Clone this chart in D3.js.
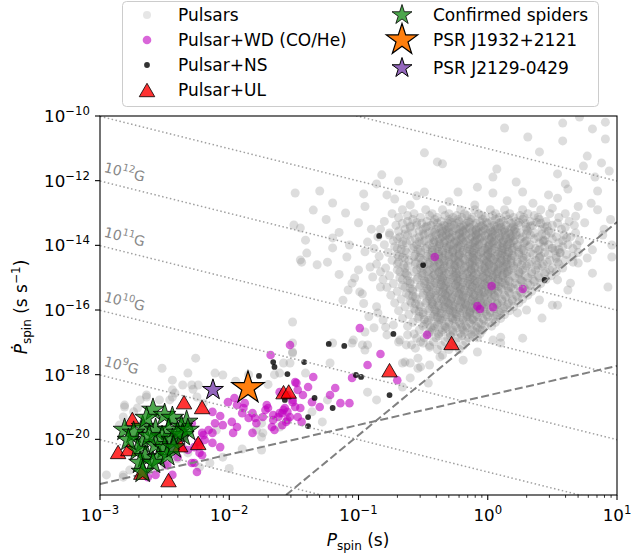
<!DOCTYPE html>
<html><head><meta charset="utf-8">
<script src="https://cdn.jsdelivr.net/npm/d3@7"></script>
<style>body{margin:0;background:#fff}svg{display:block}text{font-family:"DejaVu Sans",sans-serif}</style>
</head><body><svg id="c" width="631" height="553"></svg>
<script>
// All values are log10(P [s]) and log10(Pdot [s/s]).
// Dense pulsar population, rows: [log10 Pdot, log10 P ...]
const pulsarRowsA = [
[-12.9,-0.66,-0.48,-0.35,-0.21,-0.1,0.02,0.13,0.27,0.41],
[-13.02,-0.74,-0.57,-0.43,-0.3,-0.18,-0.07,0.06,0.17,0.31,0.48,0.6],
[-13.14,-0.69,-0.52,-0.39,-0.27,-0.2,-0.12,-0.02,0.09,0.2,0.28,0.39,0.55],
[-13.26,-0.8,-0.62,-0.47,-0.36,-0.29,-0.22,-0.15,-0.06,0.03,0.12,0.22,0.33,0.45,0.63],
[-13.38,-0.71,-0.55,-0.44,-0.34,-0.26,-0.18,-0.11,-0.04,0.05,0.14,0.24,0.35,0.5,0.67],
[-13.5,-0.83,-0.64,-0.5,-0.4,-0.32,-0.24,-0.17,-0.09,-0.02,0.06,0.13,0.21,0.3,0.42,0.57],
[-13.62,-0.76,-0.58,-0.46,-0.37,-0.3,-0.22,-0.14,-0.07,0.0,0.08,0.16,0.25,0.36,0.49,0.68],
[-13.74,-0.85,-0.68,-0.53,-0.43,-0.35,-0.28,-0.2,-0.12,-0.05,0.03,0.1,0.18,0.27,0.39,0.53,0.64],
[-13.86,-0.73,-0.6,-0.49,-0.41,-0.33,-0.25,-0.17,-0.1,-0.03,0.05,0.12,0.2,0.3,0.44,0.58,0.71],
[-13.98,-0.8,-0.66,-0.55,-0.45,-0.37,-0.29,-0.22,-0.14,-0.07,0.01,0.08,0.15,0.23,0.33,0.47,0.62],
[-14.1,-0.88,-0.7,-0.58,-0.48,-0.39,-0.31,-0.24,-0.16,-0.09,-0.02,0.05,0.12,0.19,0.27,0.37,0.5,0.66],
[-14.22,-0.77,-0.63,-0.52,-0.43,-0.35,-0.27,-0.2,-0.12,-0.05,0.02,0.09,0.16,0.24,0.33,0.44,0.56,0.7],
[-14.34,-0.84,-0.69,-0.57,-0.47,-0.38,-0.3,-0.23,-0.15,-0.08,-0.01,0.06,0.13,0.21,0.3,0.41,0.53,0.66],
[-14.46,-0.74,-0.61,-0.5,-0.41,-0.33,-0.25,-0.18,-0.1,-0.03,0.04,0.11,0.18,0.27,0.37,0.48,0.6],
[-14.58,-0.86,-0.7,-0.56,-0.46,-0.37,-0.29,-0.21,-0.14,-0.06,0.01,0.08,0.15,0.23,0.32,0.43,0.55],
[-14.7,-0.79,-0.64,-0.52,-0.42,-0.34,-0.26,-0.18,-0.1,-0.03,0.05,0.12,0.2,0.29,0.39,0.5,0.58],
[-14.82,-0.83,-0.68,-0.57,-0.47,-0.38,-0.3,-0.22,-0.15,-0.07,0.0,0.07,0.15,0.24,0.34,0.45,0.53],
[-14.94,-0.76,-0.62,-0.51,-0.42,-0.34,-0.26,-0.19,-0.11,-0.04,0.04,0.11,0.19,0.29,0.39,0.49],
[-15.06,-0.81,-0.66,-0.55,-0.45,-0.37,-0.29,-0.21,-0.14,-0.06,0.01,0.08,0.16,0.25,0.35,0.45],
[-15.18,-0.73,-0.6,-0.49,-0.4,-0.32,-0.24,-0.16,-0.09,-0.02,0.06,0.13,0.21,0.31,0.41],
[-15.3,-0.78,-0.64,-0.53,-0.44,-0.35,-0.27,-0.19,-0.12,-0.04,0.03,0.1,0.18,0.28,0.38],
[-15.42,-0.7,-0.58,-0.47,-0.38,-0.3,-0.22,-0.14,-0.07,0.01,0.08,0.16,0.25,0.34],
[-15.54,-0.75,-0.61,-0.5,-0.41,-0.33,-0.25,-0.17,-0.1,-0.02,0.05,0.13,0.22,0.31],
[-15.66,-0.67,-0.55,-0.45,-0.36,-0.28,-0.2,-0.12,-0.05,0.03,0.11,0.19,0.27],
[-15.78,-0.72,-0.59,-0.48,-0.39,-0.31,-0.23,-0.15,-0.08,0.0,0.08,0.16,0.24],
[-15.9,-0.64,-0.52,-0.43,-0.34,-0.26,-0.18,-0.1,-0.03,0.05,0.13,0.2],
[-16.02,-0.69,-0.56,-0.46,-0.37,-0.29,-0.21,-0.13,-0.06,0.02,0.1,0.17],
[-16.14,-0.61,-0.5,-0.41,-0.32,-0.24,-0.16,-0.09,-0.01,0.07,0.13],
[-16.26,-0.66,-0.54,-0.44,-0.35,-0.27,-0.19,-0.11,-0.04,0.04,0.1],
[-16.38,-0.58,-0.47,-0.38,-0.3,-0.22,-0.14,-0.07,0.01,0.06],
[-16.5,-0.62,-0.5,-0.41,-0.33,-0.25,-0.17,-0.09,-0.02,0.03],
[-16.62,-0.53,-0.43,-0.35,-0.27,-0.19,-0.12,-0.04],
[-16.74,-0.57,-0.46,-0.38,-0.29,-0.21,-0.13,-0.06],
[-16.86,-0.49,-0.4,-0.31,-0.23,-0.15,-0.08],
[-16.98,-0.52,-0.42,-0.33,-0.25,-0.17],
[-17.1,-0.45,-0.36,-0.27,-0.19],
[-17.22,-0.39,-0.3,-0.22]
];
const pulsarRowsB = [
[-13.08,-0.62,-0.45,-0.33,-0.24,-0.16,-0.05,0.04,0.14,0.25,0.36],
[-13.2,-0.58,-0.41,-0.3,-0.23,-0.13,-0.04,0.06,0.16,0.27,0.4],
[-13.32,-0.66,-0.51,-0.39,-0.31,-0.24,-0.17,-0.09,0.0,0.09,0.18,0.29,0.41,0.54],
[-13.44,-0.6,-0.48,-0.38,-0.3,-0.21,-0.14,-0.07,0.02,0.1,0.19,0.3,0.44,0.6],
[-13.56,-0.69,-0.53,-0.43,-0.35,-0.27,-0.19,-0.12,-0.04,0.04,0.11,0.2,0.31,0.47],
[-13.68,-0.62,-0.49,-0.4,-0.32,-0.25,-0.17,-0.09,-0.02,0.06,0.14,0.22,0.33,0.45,0.59],
[-13.8,-0.7,-0.56,-0.45,-0.37,-0.29,-0.21,-0.14,-0.06,0.01,0.09,0.17,0.25,0.36,0.5],
[-13.92,-0.63,-0.51,-0.42,-0.34,-0.26,-0.19,-0.11,-0.04,0.04,0.11,0.18,0.28,0.4,0.55],
[-14.04,-0.72,-0.57,-0.47,-0.38,-0.3,-0.23,-0.15,-0.08,0.0,0.07,0.15,0.23,0.32,0.44,0.58],
[-14.16,-0.64,-0.52,-0.43,-0.35,-0.27,-0.19,-0.11,-0.04,0.03,0.11,0.19,0.28,0.39,0.52],
[-14.28,-0.7,-0.56,-0.46,-0.38,-0.3,-0.22,-0.14,-0.07,0.0,0.08,0.15,0.24,0.35,0.47,0.61],
[-14.4,-0.64,-0.52,-0.43,-0.35,-0.27,-0.19,-0.11,-0.04,0.03,0.1,0.18,0.28,0.4,0.53],
[-14.52,-0.69,-0.56,-0.46,-0.38,-0.3,-0.22,-0.14,-0.07,0.0,0.07,0.14,0.23,0.34,0.46],
[-14.64,-0.62,-0.5,-0.41,-0.33,-0.25,-0.17,-0.1,-0.02,0.05,0.12,0.2,0.3,0.42],
[-14.76,-0.7,-0.55,-0.45,-0.36,-0.28,-0.2,-0.13,-0.05,0.03,0.1,0.18,0.27,0.37,0.48],
[-14.88,-0.63,-0.5,-0.41,-0.32,-0.24,-0.16,-0.09,-0.01,0.07,0.15,0.24,0.34,0.44],
[-15.0,-0.68,-0.54,-0.44,-0.35,-0.27,-0.19,-0.12,-0.04,0.04,0.12,0.21,0.31,0.4],
[-15.12,-0.6,-0.48,-0.39,-0.31,-0.23,-0.15,-0.08,0.0,0.08,0.17,0.27,0.36],
[-15.24,-0.66,-0.52,-0.42,-0.33,-0.25,-0.17,-0.1,-0.02,0.06,0.14,0.23,0.33],
[-15.36,-0.58,-0.46,-0.37,-0.29,-0.21,-0.13,-0.05,0.03,0.11,0.2,0.29],
[-15.48,-0.63,-0.5,-0.4,-0.31,-0.23,-0.15,-0.07,0.0,0.08,0.17,0.26],
[-15.6,-0.56,-0.44,-0.35,-0.27,-0.19,-0.11,-0.03,0.05,0.14,0.23],
[-15.72,-0.6,-0.47,-0.38,-0.29,-0.21,-0.13,-0.06,0.02,0.11,0.19],
[-15.84,-0.53,-0.42,-0.33,-0.25,-0.17,-0.09,-0.01,0.07,0.15],
[-15.96,-0.57,-0.45,-0.36,-0.27,-0.19,-0.11,-0.03,0.05,0.12],
[-16.08,-0.5,-0.39,-0.3,-0.22,-0.14,-0.06,0.02,0.09],
[-16.2,-0.53,-0.42,-0.33,-0.24,-0.16,-0.08,0.0,0.06],
[-16.32,-0.46,-0.36,-0.27,-0.19,-0.11,-0.03],
[-16.44,-0.49,-0.39,-0.3,-0.21,-0.13,-0.05],
[-16.56,-0.42,-0.33,-0.24,-0.16,-0.08],
[-16.68,-0.45,-0.36,-0.27,-0.18,-0.1],
[-16.8,-0.38,-0.29,-0.2,-0.12]
];
const pulsarRowsC = [
[-13.47,-0.36,-0.25,-0.14,-0.03,0.08,0.18],
[-13.59,-0.41,-0.3,-0.19,-0.08,0.03,0.13,0.22],
[-13.71,-0.35,-0.24,-0.13,-0.02,0.09,0.19],
[-13.83,-0.42,-0.31,-0.2,-0.09,0.02,0.12,0.21],
[-13.95,-0.37,-0.26,-0.15,-0.04,0.07,0.17],
[-14.07,-0.43,-0.32,-0.21,-0.1,0.01,0.11,0.2],
[-14.19,-0.38,-0.27,-0.16,-0.05,0.06,0.16],
[-14.31,-0.44,-0.33,-0.22,-0.11,0.0,0.1,0.19],
[-14.43,-0.39,-0.28,-0.17,-0.06,0.05,0.15],
[-14.55,-0.45,-0.34,-0.23,-0.12,-0.01,0.09,0.18],
[-14.67,-0.4,-0.29,-0.18,-0.07,0.04,0.14],
[-14.79,-0.46,-0.35,-0.24,-0.13,-0.02,0.08,0.16],
[-14.91,-0.41,-0.3,-0.19,-0.08,0.03,0.12],
[-15.03,-0.46,-0.35,-0.24,-0.13,-0.02,0.08],
[-15.15,-0.41,-0.3,-0.19,-0.08,0.03,0.11],
[-15.27,-0.45,-0.34,-0.23,-0.12,-0.01,0.08],
[-15.39,-0.4,-0.29,-0.18,-0.07,0.03],
[-15.51,-0.44,-0.33,-0.22,-0.11,0.0],
[-15.63,-0.39,-0.28,-0.17,-0.06],
[-15.75,-0.43,-0.32,-0.21,-0.1,0.0],
[-15.87,-0.38,-0.27,-0.16,-0.05],
[-15.99,-0.41,-0.3,-0.19,-0.09],
[-16.11,-0.36,-0.25,-0.14],
[-16.23,-0.39,-0.28,-0.17]
];
const pulsarRowsD = [
[-13.53,-0.31,-0.2,-0.09,0.02,0.13],
[-13.77,-0.3,-0.19,-0.08,0.03,0.14],
[-14.01,-0.32,-0.21,-0.1,0.01,0.12],
[-14.25,-0.33,-0.22,-0.11,0.0,0.11],
[-14.49,-0.34,-0.23,-0.12,-0.01,0.1],
[-14.73,-0.35,-0.24,-0.13,-0.02,0.08],
[-14.97,-0.36,-0.25,-0.14,-0.03,0.06],
[-15.21,-0.36,-0.25,-0.14,-0.03],
[-15.45,-0.35,-0.24,-0.13,-0.03],
[-15.69,-0.34,-0.23,-0.12],
[-15.93,-0.33,-0.22,-0.12]
];
const pulsarRowsE = [
[-13.29,-0.55,-0.42,-0.28,-0.14,-0.01,0.1,0.24,0.38],
[-13.41,-0.6,-0.47,-0.33,-0.19,-0.05,0.07,0.2,0.33,0.46],
[-13.65,-0.64,-0.5,-0.36,-0.22,-0.09,0.04,0.17,0.3,0.42],
[-13.89,-0.66,-0.53,-0.38,-0.24,-0.1,0.03,0.16,0.29,0.43],
[-14.13,-0.67,-0.54,-0.41,-0.27,-0.14,0.0,0.13,0.26,0.4,0.55],
[-14.37,-0.66,-0.53,-0.4,-0.26,-0.12,0.02,0.15,0.27,0.4],
[-14.61,-0.65,-0.52,-0.39,-0.26,-0.12,0.01,0.14,0.26,0.38],
[-14.85,-0.64,-0.51,-0.38,-0.25,-0.12,0.01,0.13,0.25],
[-15.09,-0.62,-0.49,-0.36,-0.23,-0.1,0.02,0.14,0.26],
[-15.33,-0.6,-0.47,-0.34,-0.21,-0.08,0.05,0.16],
[-15.57,-0.58,-0.45,-0.32,-0.19,-0.06,0.06],
[-15.81,-0.56,-0.43,-0.3,-0.17,-0.04,0.07],
[-16.05,-0.53,-0.4,-0.27,-0.14,-0.02],
[-16.29,-0.49,-0.37,-0.25,-0.12],
[-16.53,-0.44,-0.32,-0.2]
];
// Isolated pulsars [log10 P, log10 Pdot]
const pulsarScatter = [
[-0.49,-11.14],[-0.39,-11.42],[-0.35,-11.48],[-0.82,-11.82],[-0.69,-12.01],[-1.3,-12.32],[-0.96,-12.41],[-0.86,-12.1],[-0.78,-12.44],[-0.72,-12.57],[-0.49,-12.35],[-0.55,-12.47],[-0.23,-12.35],
[0.13,-10.37],[0.58,-10.22],[0.71,-10.03],[0.91,-10.19],[0.81,-10.4],[0.31,-10.65],[0.58,-10.77],[0.91,-10.71],[0.4,-11.11],[0.77,-11.24],[0.07,-11.64],[0.04,-11.89],[0.54,-11.79],[0.88,-11.45],[0.74,-11.55],[0.83,-11.89],[0.94,-11.7],[0.22,-12.04],[-0.08,-12.2],[0.6,-12.1],[0.62,-12.26],[0.85,-12.32],[0.27,-12.35],[0.47,-12.44],[0.54,-12.54],[0.04,-12.38],[-1.49,-12.38],[-1.2,-12.69],[-1.35,-12.91],[-1.45,-13.46],[-1.5,-13.37],
[0.75,-13.3],[0.9,-13.5],[0.68,-13.1],[0.85,-12.9],[0.95,-13.2],[0.8,-12.7],[0.7,-12.8],[-1.25,-13.2],[-1.1,-13.0],[-0.95,-12.8],[-1.0,-13.3],[-0.9,-13.5],[-1.15,-13.6],[0.35,-12.7],[0.15,-12.62],[-0.3,-12.65],[-0.1,-12.75],[0.5,-12.85],[-0.6,-12.75],
[-1.4,-14.24],[-1.45,-14.45],[-1.32,-14.6],[-1.09,-14.36],[-0.99,-15.44],[-1.08,-15.38],[-1.05,-15.17],[-0.86,-15.9],[-0.85,-16.09],[-1.41,-13.84],[-1.44,-14.52],[-1.24,-14.52],[-1.2,-14.08],[-1.2,-13.77],[-1.07,-13.99],[-1.03,-15.01],[-0.97,-15.5],[-0.89,-14.98],[-0.91,-14.67],[-1.0,-14.76],[-0.83,-15.29],[-0.81,-16.31],[-1.04,-16.93],[-0.97,-17.08],[-0.95,-17.24],[-0.78,-16.77],[-0.68,-16.93],[-0.63,-17.08],[-0.56,-17.18],[-0.37,-17.45],[-0.76,-13.68],[-0.95,-14.2],[-0.93,-13.9],[-1.12,-15.7],[-0.92,-16.2],[-0.96,-15.8],[-1.15,-14.9],[-0.88,-16.55],
[0.43,-13.84],[0.5,-14.08],[0.56,-14.24],[0.54,-14.52],[0.61,-13.77],[0.69,-13.99],[0.81,-14.14],[0.77,-14.39],[0.66,-14.52],[0.7,-14.55],[0.96,-14.36],[0.89,-13.68],[0.96,-13.99],[0.81,-14.86],[0.64,-15.17],[0.62,-15.38],[0.93,-15.29],[0.54,-15.07],[0.4,-15.69],[0.5,-15.85],[0.54,-15.85],[0.42,-16.25],[0.27,-16.87],[0.3,-16.0],[0.23,-16.09],[0.1,-16.84],[0.04,-16.93],[-0.08,-17.3],[-0.19,-17.55],[-0.06,-16.62],
[-0.59,-17.08],[-0.45,-17.15],[-0.35,-17.39],[-0.64,-17.61],[-0.54,-17.8],[-0.45,-17.7],[-0.6,-18.1],[-0.46,-18.26],[0.1,-17.02],
[-0.95,-16.68],[-0.79,-16.53],[-0.73,-16.46],[-0.62,-16.77],[-0.69,-16.99],[-0.55,-16.87],[-0.5,-17.02],[-0.93,-17.08],[-1.05,-17.02],[-1.2,-17.02],[-1.51,-17.33],[-1.58,-17.64],[-1.53,-17.64],[-1.61,-17.95],[-1.41,-17.95],[-1.22,-17.64],[-0.93,-18.54],[-0.86,-18.78],[-1.24,-18.78],[-1.36,-19.15],[-1.28,-19.46],[-1.75,-19.5],[-1.74,-19.8],[-0.66,-17.64],[-0.6,-17.64],[-0.54,-17.49],[-0.52,-17.76],[-0.66,-18.38],[-1.51,-16.37],
[-2.26,-17.49],[-2.52,-17.8],[-2.32,-17.95],[-2.11,-17.95],[-2.05,-18.01],[-2.44,-18.17],[-2.24,-18.32],[-2.29,-18.32],[-2.42,-18.57],[-2.54,-18.78],[-2.46,-18.78],[-2.64,-18.69],[-2.69,-18.78],[-2.81,-19.0],[-2.74,-19.15],[-2.82,-19.31],[-2.25,-18.69],[-2.2,-18.88],[-1.51,-17.3],[-1.51,-17.02],[-1.75,-19.93],[-1.79,-19.71],[-1.61,-19.62],[-1.75,-20.33],[-2.05,-20.55],[-2.15,-20.73],[-2.23,-20.86],[-2.82,-21.1],[-2.77,-20.95],[-2.36,-20.24],[-2.32,-20.42],[-2.85,-19.56],[-2.67,-19.5],[-2.4,-19.62],[-2.1,-19.71],[-2.7,-19.9],[-2.6,-20.1],[-2.5,-20.3],[-2.65,-20.5],[-2.45,-20.0],[-2.55,-19.7],[-2.4,-20.6],[-2.75,-20.3],[-2.35,-19.9],[-2.5,-20.8],[-2.6,-20.9],[-2.64,-18.63],[-2.71,-19.03],[-2.81,-18.94],[-2.36,-18.32],[-2.28,-18.45],[-2.44,-18.47],[-2.95,-21.1],[-2.82,-21.17],[-2.44,-18.69],[-1.95,-18.2],[-1.85,-18.0],[-1.7,-18.3],[-1.65,-18.0],[-1.9,-20.3],[-2.0,-20.9]
];
const wdBinaries = [
[-2.01,-18.85],[-1.94,-18.94],[-1.9,-19.19],[-2.07,-19.28],[-2.11,-19.5],[-2.05,-19.56],[-1.98,-19.46],[-2.16,-19.71],[-2.21,-19.8],[-2.13,-19.8],[-2.24,-20.08],[-2.19,-20.02],[-2.27,-20.24],[-2.32,-20.33],[-2.36,-19.96],[-2.44,-20.33],[-2.4,-20.55],[-2.21,-20.49],[-2.27,-20.73],[-2.48,-20.8],[-2.57,-21.1],[-2.63,-21.17],[-2.25,-21.01],[-1.82,-19.19],[-1.79,-19.5],[-1.82,-19.8],[-1.65,-19.71],[-1.61,-19.19],[-1.55,-19.15],[-1.7,-19.03],[-1.74,-19.31],[-1.71,-18.94],[-1.88,-18.88],[-1.96,-18.72],[-2.13,-19.15],[-2.29,-19.5],[-2.42,-20.11],
[-1.53,-17.08],[-1.68,-17.39],[-1.89,-19.03],[-1.57,-19.03],[-1.51,-18.85],[-1.48,-18.26],[-1.59,-19.19],[-1.66,-19.25],[-1.67,-19.62],[-1.55,-19.4],[-1.47,-19.31],[-1.85,-19.34],[-1.94,-19.62],[-1.97,-19.8],[-2.2,-19.87],[-2.13,-20.11],[-2.07,-20.24],[-2.23,-20.42],[-2.29,-20.73],[-2.44,-21.1],[-2.23,-20.18],[-2.37,-20.24],
[-0.99,-16.56],[-0.83,-17.36],[-0.93,-17.7],[-1.05,-18.1],[-0.7,-18.17],[-0.47,-16.77],[-1.35,-18.07],[-1.39,-18.38],[-1.49,-18.23],[-1.47,-18.47],[-1.43,-18.63],[-1.51,-18.78],[-1.45,-19.03],[-1.61,-18.54],[-1.55,-18.63],[-1.22,-18.63],[-1.18,-18.41],[-1.14,-18.88],[-1.07,-18.88],[-1.36,-18.85],[-1.58,-19.09],[-1.62,-19.31],[-1.66,-19.4],[-1.59,-19.56],[-1.8,-19.34],[-1.72,-19.09],[-1.53,-19.31],[-1.44,-19.46],[-1.56,-19.46],[-1.49,-19.0],[-1.3,-19.0],
[-0.41,-14.36],[0.03,-15.26],[0.27,-15.35],[-0.08,-15.88],[-0.06,-15.97],[0.04,-15.91]
];
const nsBinaries = [
[-0.73,-16.74],[-1.23,-17.05],[-1.11,-17.11],[-1.42,-17.61],[-1.66,-17.61],[-1.65,-17.76],[-1.77,-18.04],[-1.55,-17.98],[-1.02,-18.01],[-0.98,-18.07],[-1.34,-18.72],[-1.2,-19.03],[-1.57,-18.78],[-1.39,-19.31],[-1.39,-19.59],[-0.76,-18.63],[-0.84,-13.71],[-0.5,-14.61],[0.44,-15.07]
];
const ulBinaries = [
[-2.75,-19.37],[-2.35,-18.85],[-2.21,-19.0],[-2.86,-20.39],[-2.78,-20.3],[-2.38,-20.18],[-2.24,-20.11],[-2.47,-21.26],[-2.68,-21.03],[-1.58,-18.54],[-1.54,-18.52],[-0.76,-17.86],[-0.28,-17.02]
];
const spiders = [
[-2.59,-19.09],[-2.5,-19.25],[-2.44,-19.34],[-2.33,-19.46],[-2.37,-19.62],[-2.67,-19.62],[-2.81,-19.71],[-2.74,-19.8],[-2.57,-19.71],[-2.47,-19.71],[-2.52,-19.93],[-2.44,-20.02],[-2.36,-19.87],[-2.67,-20.11],[-2.57,-20.18],[-2.5,-20.27],[-2.71,-20.33],[-2.65,-20.55],[-2.55,-20.58],[-2.69,-20.73],[-2.59,-20.73],[-2.67,-21.01],[-2.78,-20.02],[-2.4,-19.8],[-2.32,-19.71],[-2.48,-20.49],[-2.64,-19.34],[-2.62,-19.9],[-2.43,-20.25]
];
const psrJ1932 = [-1.855, -18.41];
const psrJ2129 = [-2.126, -18.47];
// constant-B lines: Pdot = (B / 3.2e19)^2 / P
const fieldStrengths = [1e8, 1e9, 1e10, 1e11, 1e12, 1e13, 1e14];
const fieldLabelExps = [12, 11, 10, 9];
// death lines: [P, Pdot] endpoints
const deathLineSteep = [[0.0275, 1.9e-22], [10, 5.25e-14]];
const deathLineShallow = [[1e-3, 4.17e-22], [10, 1.86e-18]];
const xTickExps = [-3, -2, -1, 0, 1];
const yTickExps = [-20, -18, -16, -14, -12, -10];
const legendLeft = ["Pulsars", "Pulsar+WD (CO/He)", "Pulsar+NS", "Pulsar+UL"];
const legendRight = ["Confirmed spiders", "PSR J1932+2121", "PSR J2129-0429"];

const svg = d3.select("#c");
const L = 100, R = 617, T = 116, B = 495;
const x = d3.scaleLog().domain([1e-3, 10]).range([L, R]);
const y = d3.scaleLog().domain([1.9e-22, 1e-10]).range([B, T]);
const px = d => x(Math.pow(10, d[0])), py = d => y(Math.pow(10, d[1]));
const MINUS = "\u2212";

svg.append("defs").append("clipPath").attr("id", "clip")
  .append("rect").attr("x", L).attr("y", T).attr("width", R - L).attr("height", B - T);
const plot = svg.append("g").attr("clip-path", "url(#clip)");

const gray = [];
[pulsarRowsA, pulsarRowsB, pulsarRowsC, pulsarRowsD, pulsarRowsE].forEach(rows => rows.forEach(r => {
  for (let i = 1; i < r.length; i++) gray.push([r[i], r[0]]);
}));
pulsarScatter.forEach(p => gray.push(p));

plot.append("g").selectAll("circle").data(gray).join("circle")
  .attr("cx", px).attr("cy", py).attr("r", 4.5)
  .attr("fill", "#808080").attr("fill-opacity", 0.27);
plot.append("g").selectAll("circle").data(wdBinaries).join("circle")
  .attr("cx", px).attr("cy", py).attr("r", 4.3)
  .attr("fill", "#bf00bf").attr("fill-opacity", 0.6);
plot.append("g").selectAll("circle").data(nsBinaries).join("circle")
  .attr("cx", px).attr("cy", py).attr("r", 2.9)
  .attr("fill", "#000").attr("fill-opacity", 0.8);

// B-field lines
const line = d3.line().x(d => x(d[0])).y(d => y(d[1]));
fieldStrengths.forEach(Bf => {
  const k = Math.pow(Bf / 3.2e19, 2);
  plot.append("path").attr("d", line([[1e-3, k / 1e-3], [10, k / 10]]))
    .attr("fill", "none").attr("stroke", "#a0a0a0").attr("stroke-width", 1.5)
    .attr("stroke-dasharray", "1.5,2.5");
});
[deathLineSteep, deathLineShallow].forEach(dl => {
  plot.append("path").attr("d", line(dl))
    .attr("fill", "none").attr("stroke", "#808080").attr("stroke-width", 2)
    .attr("stroke-dasharray", "8,3.5");
});
// B labels
const ang = Math.atan2(y(1e-21) - y(1e-20), x(1e-2) - x(1e-3)) * 180 / Math.PI;
fieldLabelExps.forEach(e => {
  const k = Math.pow(Math.pow(10, e) / 3.2e19, 2);
  const P0 = Math.pow(10, -2.975);
  const tx = x(P0), ty = y(k / P0) - 10;
  const t = svg.append("text").attr("transform", `translate(${tx},${ty}) rotate(${ang})`)
    .attr("fill", "#888").attr("font-size", 14);
  t.append("tspan").text("10");
  t.append("tspan").attr("font-size", 10).attr("dy", -6).text(String(e));
  t.append("tspan").attr("dy", 6).text("G");
});

const tri = s => { const h = s * 0.866; return `M0,${-h/2}L${s/2},${h/2}L${-s/2},${h/2}Z`; };
plot.append("g").selectAll("path").data(ulBinaries).join("path")
  .attr("transform", d => `translate(${px(d)},${py(d)})`).attr("d", tri(15.5))
  .attr("fill", "#ff0000").attr("fill-opacity", 0.8)
  .attr("stroke", "#000").attr("stroke-opacity", 0.8).attr("stroke-width", 1);
const star = Rr => d3.symbol(d3.symbolStar, Rr * Rr / 0.8908130915)();
plot.append("g").selectAll("path").data(spiders).join("path")
  .attr("transform", d => `translate(${px(d)},${py(d)})`).attr("d", star(12))
  .attr("fill", "#008000").attr("fill-opacity", 0.7)
  .attr("stroke", "#000").attr("stroke-opacity", 0.8).attr("stroke-width", 1);
plot.append("path").attr("transform", `translate(${px(psrJ1932)},${py(psrJ1932)})`)
  .attr("d", star(17)).attr("fill", "#ff7f0e").attr("stroke", "#000").attr("stroke-width", 1.2);
plot.append("path").attr("transform", `translate(${px(psrJ2129)},${py(psrJ2129)})`)
  .attr("d", star(11)).attr("fill", "#9467bd").attr("stroke", "#000").attr("stroke-width", 1);

// axes frame
svg.append("rect").attr("x", L).attr("y", T).attr("width", R - L).attr("height", B - T)
  .attr("fill", "none").attr("stroke", "#000").attr("stroke-width", 1.1);
const ax = svg.append("g");
xTickExps.forEach(e => {
  const X = x(Math.pow(10, e));
  ax.append("line").attr("x1", X).attr("x2", X).attr("y1", B).attr("y2", B + 5).attr("stroke", "#000").attr("stroke-width", 1.1);
  const t = ax.append("text").attr("x", X).attr("y", 521).attr("text-anchor", "middle").attr("font-size", 16.7);
  t.append("tspan").text("10");
  t.append("tspan").attr("font-size", 11.7).attr("dy", -7).text(e < 0 ? MINUS + (-e) : String(e));
  if (e < 1) for (let m = 2; m <= 9; m++) {
    const Xm = x(m * Math.pow(10, e));
    ax.append("line").attr("x1", Xm).attr("x2", Xm).attr("y1", B).attr("y2", B + 2.8).attr("stroke", "#000").attr("stroke-width", 0.8);
  }
});
yTickExps.forEach(e => {
  const Y = y(Math.pow(10, e));
  ax.append("line").attr("x1", L - 5).attr("x2", L).attr("y1", Y).attr("y2", Y).attr("stroke", "#000").attr("stroke-width", 1.1);
  const t = ax.append("text").attr("x", 90).attr("y", Y + 6).attr("text-anchor", "end").attr("font-size", 16.7);
  t.append("tspan").text("10");
  t.append("tspan").attr("font-size", 11.7).attr("dy", -7).text(MINUS + (-e));
});
// axis labels
const xl = svg.append("text").attr("x", 358).attr("y", 546).attr("text-anchor", "middle").attr("font-size", 17);
xl.append("tspan").attr("font-style", "italic").text("P");
xl.append("tspan").attr("font-size", 12).attr("dy", 4).text("spin");
xl.append("tspan").attr("dy", -4).text(" (s)");
const yl = svg.append("text").attr("transform", "translate(27,307) rotate(-90)").attr("text-anchor", "middle").attr("font-size", 17);
yl.append("tspan").attr("font-style", "italic").text("\u1E56");
yl.append("tspan").attr("font-size", 12).attr("dy", 4).text("spin");
yl.append("tspan").attr("dy", -4).text(" (s s");
yl.append("tspan").attr("font-size", 12).attr("dy", -7).text(MINUS + "1");
yl.append("tspan").attr("dy", 7).text(")");

// legend
const lg = svg.append("g");
lg.append("rect").attr("x", 122.5).attr("y", 1.5).attr("width", 476).attr("height", 105).attr("rx", 4)
  .attr("fill", "#fff").attr("fill-opacity", 0.8).attr("stroke", "#cccccc");
const rowsL = [15, 40, 65, 90], rowsR = [15, 40, 68];
legendLeft.forEach((s, i) => lg.append("text").attr("x", 178).attr("y", rowsL[i] + 6).attr("font-size", 17).text(s));
legendRight.forEach((s, i) => lg.append("text").attr("x", 433).attr("y", rowsR[i] + 6).attr("font-size", 17).text(s));
lg.append("circle").attr("cx", 147).attr("cy", rowsL[0]).attr("r", 4).attr("fill", "#808080").attr("fill-opacity", 0.2);
lg.append("circle").attr("cx", 147).attr("cy", rowsL[1]).attr("r", 4.3).attr("fill", "#bf00bf").attr("fill-opacity", 0.6);
lg.append("circle").attr("cx", 147).attr("cy", rowsL[2]).attr("r", 2.9).attr("fill", "#000").attr("fill-opacity", 0.8);
lg.append("path").attr("transform", `translate(147,${rowsL[3]})`).attr("d", tri(15.5))
  .attr("fill", "#ff0000").attr("fill-opacity", 0.8).attr("stroke", "#000").attr("stroke-opacity", 0.8);
lg.append("path").attr("transform", `translate(402,${rowsR[0]})`).attr("d", star(10.5))
  .attr("fill", "#008000").attr("fill-opacity", 0.7).attr("stroke", "#000").attr("stroke-opacity", 0.8);
lg.append("path").attr("transform", `translate(402,${rowsR[1]})`).attr("d", star(16.5))
  .attr("fill", "#ff7f0e").attr("stroke", "#000").attr("stroke-width", 1.2);
lg.append("path").attr("transform", `translate(402,${rowsR[2]})`).attr("d", star(10.5))
  .attr("fill", "#9467bd").attr("stroke", "#000");
</script></body></html>
